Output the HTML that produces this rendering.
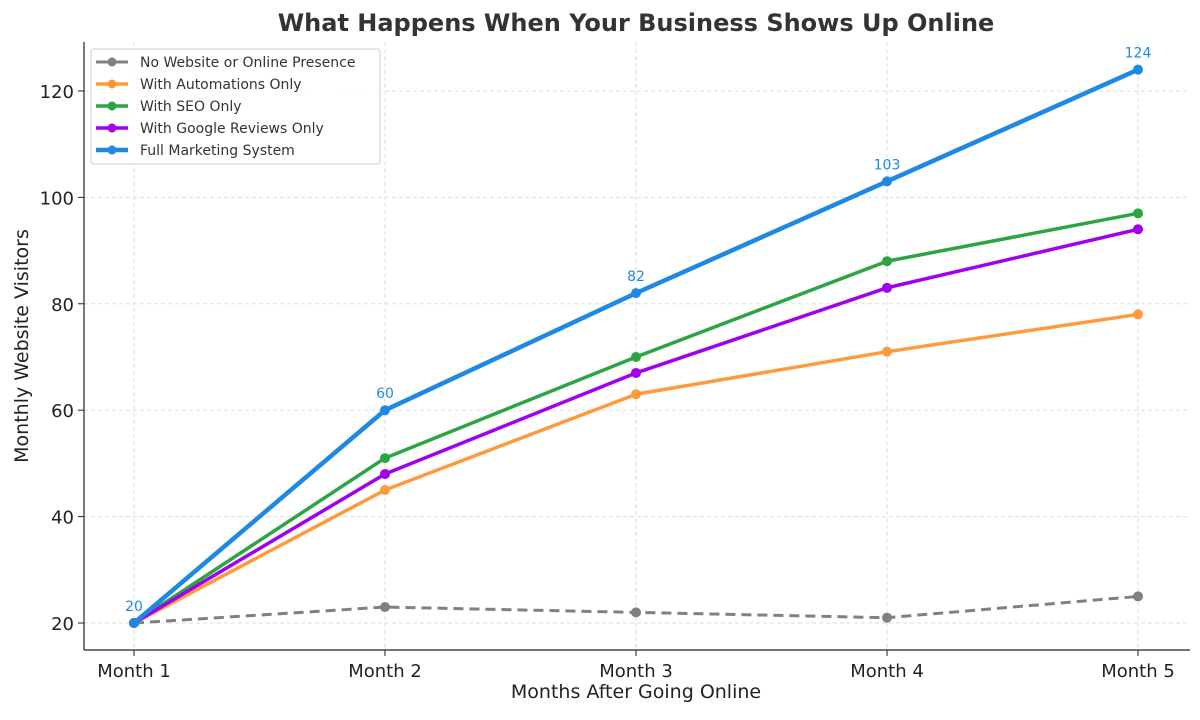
<!DOCTYPE html>
<html><head><meta charset="utf-8"><style>
body{margin:0;background:#fff;}
svg text{font-family:"DejaVu Sans","Liberation Sans",sans-serif;}
</style></head><body>
<svg id="chart" width="1200" height="715" xmlns="http://www.w3.org/2000/svg">
<text x="636" y="31" text-anchor="middle" font-size="24" font-weight="bold" fill="#333">What Happens When Your Business Shows Up Online</text>
<g id="grid"></g><g id="axes"></g><g id="series"></g><g id="legend"></g>
<text x="636" y="698" text-anchor="middle" font-size="19" fill="#222">Months After Going Online</text>
<text transform="translate(28,346) rotate(-90)" text-anchor="middle" font-size="19" fill="#222">Monthly Website Visitors</text>
</svg>
<script>
const categories = ["Month 1","Month 2","Month 3","Month 4","Month 5"];
const yTicks = [20,40,60,80,100,120];
const seriesNames = ["No Website or Online Presence","With Automations Only","With SEO Only","With Google Reviews Only","Full Marketing System"];
const noWebsite = [20,23,22,21,25];
const automations = [20,45,63,71,78];
const seo = [20,51,70,88,97];
const reviews = [20,48,67,83,94];
const fullSystem = [20,60,82,103,124];
const colors = ["#808080","#ff9a3c","#2ca444","#a000f0","#1e88e5"];
const NS="http://www.w3.org/2000/svg";
const L=84,R=1190,T=42,B=650;
const yMin=14.93,yMax=129.2;
function x(i){return 134+i*251;}
function y(v){return B-(v-yMin)/(yMax-yMin)*(B-T);}
function mk(tag,attrs,parent){const e=document.createElementNS(NS,tag);for(const k in attrs)e.setAttribute(k,attrs[k]);parent.appendChild(e);return e;}
const grid=document.getElementById('grid'),axes=document.getElementById('axes'),ser=document.getElementById('series'),leg=document.getElementById('legend');
categories.forEach((c,i)=>{
 const g=mk('line',{x1:x(i),x2:x(i),y1:T,y2:B,stroke:'#ddd','stroke-dasharray':'4,3'},grid);
 
 
 mk('line',{x1:x(i),x2:x(i),y1:B,y2:B+6,stroke:'#222'},axes);
 const t=mk('text',{x:x(i),y:B+27,'text-anchor':'middle','font-size':18,fill:'#222'},axes);
 t.textContent=c;
 
 
});
yTicks.forEach(v=>{
 const g=mk('line',{x1:L,x2:R,y1:y(v),y2:y(v),stroke:'#ddd','stroke-dasharray':'4,3'},grid);
 
 
 mk('line',{x1:L-6,x2:L,y1:y(v),y2:y(v),stroke:'#222'},axes);
 const t=mk('text',{x:L-10,y:y(v)+7,'text-anchor':'end','font-size':18,fill:'#222'},axes);
 t.textContent=v;
 
 
});
mk('line',{x1:L,x2:L,y1:T,y2:B,stroke:'#222','stroke-width':1.2},axes);
mk('line',{x1:L,x2:R,y1:B,y2:B,stroke:'#222','stroke-width':1.2},axes);
const data=[noWebsite,automations,seo,reviews,fullSystem];
const widths=[3,3.5,3.5,3.5,4.5];
const snames=['series-no-website','series-automations','series-seo','series-reviews','series-full-system'];
data.forEach((d,s)=>{
 const p=mk('polyline',{points:d.map((v,i)=>x(i)+','+y(v)).join(' '),fill:'none',stroke:colors[s],'stroke-width':widths[s],'stroke-linejoin':'round'},ser);
 if(s===0)p.setAttribute('stroke-dasharray','10,6');
 
 
 d.forEach((v,i)=>{
  const c=mk('circle',{cx:x(i),cy:y(v),r:5,fill:colors[s]},ser);
  
  
 });
});
fullSystem.forEach((v,i)=>{
 const t=mk('text',{x:x(i),y:y(v)-12,'text-anchor':'middle','font-size':14,fill:'#1e88e5'},ser);
 t.textContent=v;
 
 
});
const box=mk('rect',{x:91,y:49,width:289,height:115,rx:3,fill:'#fff','fill-opacity':0.9,stroke:'#ccc'},leg);


seriesNames.forEach((n,s)=>{
 const yy=62+s*22;
 mk('line',{x1:96,x2:128,y1:yy,y2:yy,stroke:colors[s],'stroke-width':widths[s]},leg);
 mk('circle',{cx:112,cy:yy,r:4.5,fill:colors[s]},leg);
 const t=mk('text',{x:140,y:yy+5,'font-size':14,fill:'#333'},leg);
 t.textContent=n;
 
 
});
</script>
</body></html>
